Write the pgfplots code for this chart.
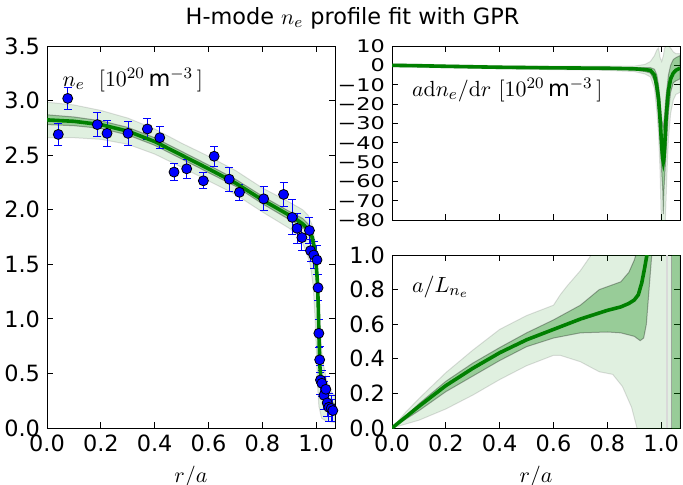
\documentclass[border=0pt]{standalone}
\usepackage{pgfplots}
\pgfplotsset{compat=1.18}
\usepackage{graphicx}
\usepackage[no-math]{fontspec}
\setmainfont{DejaVu Sans}
\definecolor{mplgreen}{RGB}{0,128,0}
\newcommand{\fs}{\fontsize{11.2}{13.5}\selectfont}
\newcommand{\sq}[1]{\scalebox{1}[0.78]{#1}}
\pgfplotsset{
  every axis/.append style={scale only axis, width=144pt, anchor=south west,
    xmin=0, xmax=1.07,
    tick label style={font=\fs}, label style={font=\fs},
    /pgf/number format/assume math mode=true,
    major tick length=3pt, tick style={black, line width=0.5pt},
    axis line style={line width=0.5pt},
    xtick={0,0.2,0.4,0.6,0.8,1.0}},
  lightband/.style={fill=mplgreen, fill opacity=0.12, draw=black, draw opacity=0.12, line width=0.5pt},
  darkband/.style={fill=mplgreen, fill opacity=0.32, draw=black, draw opacity=0.3, line width=0.5pt},
  fitline/.style={mplgreen, line width=1.8pt, no marks},
}
\pgfplotstableread{
r n e
0.042 2.69 0.10
0.077 3.02 0.10
0.187 2.78 0.11
0.223 2.70 0.12
0.301 2.70 0.11
0.373 2.74 0.10
0.419 2.66 0.10
0.472 2.345 0.08
0.519 2.375 0.085
0.581 2.265 0.075
0.621 2.49 0.09
0.677 2.28 0.11
0.715 2.16 0.075
0.805 2.10 0.11
0.879 2.14 0.11
0.911 1.93 0.16
0.929 1.83 0.14
0.947 1.745 0.12
0.975 1.81 0.12
0.979 1.625 0.10
0.991 1.585 0.12
1.003 1.54 0.13
1.007 1.285 0.12
1.010 0.868 0.13
1.013 0.625 0.12
1.016 0.44 0.13
1.021 0.41 0.12
1.029 0.30 0.13
1.036 0.355 0.12
1.041 0.23 0.12
1.047 0.19 0.13
1.056 0.18 0.12
1.062 0.16 0.10
}\nedata
\begin{document}
\begin{tikzpicture}[x=1pt,y=1pt]
\useasboundingbox (-23.5,-28) rectangle (318,214);
% ---------------- left panel ----------------
\begin{axis}[at={(0,0)}, height=191pt, ymin=0, ymax=3.5,
  ytick={0,0.5,1,1.5,2,2.5,3,3.5},
  yticklabels={0.0,0.5,1.0,1.5,2.0,2.5,3.0,3.5},
  xticklabels={0.0,0.2,0.4,0.6,0.8,1.0},
  xlabel={$r/a$}]
\addplot[lightband] coordinates {(0,2.985) (0.1,2.96) (0.2,2.91) (0.3,2.84) (0.4,2.74) (0.5,2.61) (0.6,2.49) (0.7,2.36) (0.8,2.20) (0.9,2.07) (0.95,2.00) (0.97,1.95) (0.985,1.86) (0.995,1.72) (1.004,1.5) (1.011,1.2) (1.016,0.9) (1.021,0.7) (1.027,0.58) (1.037,0.46) (1.047,0.38) (1.06,0.32) (1.07,0.30)
 (1.07,0.05) (1.04,0.06) (1.02,0.09) (1.01,0.2) (1.005,0.4) (1.001,0.7) (0.996,1.0) (0.989,1.3) (0.978,1.5) (0.963,1.62) (0.95,1.69) (0.93,1.77) (0.9,1.83) (0.8,1.98) (0.7,2.14) (0.6,2.265) (0.5,2.39) (0.4,2.51) (0.3,2.60) (0.2,2.645) (0.1,2.66) (0,2.66)} -- cycle;
\addplot[darkband] coordinates {(0,2.87) (0.1,2.85) (0.2,2.815) (0.3,2.755) (0.4,2.66) (0.5,2.535) (0.6,2.41) (0.7,2.28) (0.8,2.125) (0.9,1.985) (0.95,1.92) (0.97,1.87) (0.985,1.79) (0.995,1.67) (1.001,1.5) (1.006,1.3) (1.011,0.9) (1.015,0.6) (1.02,0.48) (1.03,0.34) (1.045,0.26) (1.07,0.22)
 (1.07,0.12) (1.04,0.18) (1.025,0.3) (1.016,0.4) (1.012,0.5) (1.008,0.8) (1.004,1.2) (0.999,1.4) (0.993,1.58) (0.985,1.70) (0.97,1.78) (0.95,1.84) (0.9,1.91) (0.8,2.055) (0.7,2.215) (0.6,2.34) (0.5,2.465) (0.4,2.59) (0.3,2.685) (0.2,2.745) (0.1,2.77) (0,2.78)} -- cycle;
\addplot[blue, only marks, mark=*, mark size=2.5pt,
  mark options={fill=blue, draw=black, line width=0.4pt},
  error bars/.cd, y dir=both, y explicit,
  error bar style={blue, line width=0.5pt},
  error mark options={rotate=90, blue, mark size=2pt, line width=0.5pt}]
  table[x=r, y=n, y error=e] {\nedata};
\addplot[fitline] coordinates {(0,2.823) (0.1,2.81) (0.2,2.78) (0.3,2.72) (0.4,2.625) (0.5,2.50) (0.6,2.375) (0.7,2.245) (0.8,2.09) (0.85,2.02) (0.9,1.95) (0.93,1.905) (0.95,1.87) (0.97,1.82) (0.985,1.75) (0.995,1.63) (1.0,1.5) (1.005,1.33) (1.008,1.1) (1.01,0.87) (1.014,0.56) (1.018,0.45) (1.022,0.38) (1.03,0.29) (1.035,0.257) (1.045,0.21) (1.055,0.19) (1.07,0.17)};
\node[anchor=west, font=\fs] at (rel axis cs:0.03,0.911) {$n_e\ \ [10^{20}\,$m$^{-3}\,]$};
\end{axis}
% ---------------- right top panel ----------------
\begin{axis}[at={(172.5pt,104pt)}, height=87pt, ymin=-80, ymax=10,
  ytick={-80,-70,-60,-50,-40,-30,-20,-10,0,10},
  yticklabels={\sq{−80},\sq{−70},\sq{−60},\sq{−50},\sq{−40},\sq{−30},\sq{−20},\sq{−10},\sq{0},\sq{10}},
  xticklabels={}]
\addplot[lightband] coordinates {(0,0.8) (0.2,0.3) (0.4,-0.2) (0.6,-0.4) (0.8,-0.4) (0.9,-0.4) (0.94,0.5) (0.96,2) (0.975,5) (0.984,8) (0.99,9) (0.996,4) (1.002,2) (1.008,5) (1.013,9) (1.018,10) (1.027,10) (1.035,9) (1.045,7) (1.055,6) (1.07,6)
 (1.07,-14) (1.055,-15) (1.045,-18) (1.035,-25) (1.027,-38) (1.023,-50) (1.018,-70) (1.013,-90) (1.002,-90) (0.996,-55) (0.99,-35) (0.984,-24) (0.975,-12) (0.96,-6) (0.94,-4.5) (0.9,-3.2) (0.8,-2.6) (0.6,-2.2) (0.4,-1.8) (0.2,-1.3) (0,-0.8)} -- cycle;
\addplot[darkband] coordinates {(0,0.3) (0.2,-0.2) (0.4,-0.7) (0.6,-1.0) (0.8,-1.1) (0.9,-1.2) (0.94,-1.2) (0.96,-1.2) (0.975,-2) (0.984,-5) (0.99,-10) (0.996,-18) (1.002,-28) (1.008,-32) (1.013,-25) (1.018,-16) (1.023,-10) (1.027,-5) (1.035,0) (1.045,3) (1.055,4) (1.07,5)
 (1.07,-7) (1.055,-8) (1.045,-9) (1.035,-14) (1.027,-24) (1.018,-45) (1.013,-58) (1.010,-65) (1.008,-77) (1.006,-65) (1.002,-55) (0.996,-40) (0.99,-25) (0.984,-17) (0.975,-8) (0.96,-4) (0.94,-3.2) (0.9,-2.4) (0.8,-1.9) (0.6,-1.6) (0.4,-1.3) (0.2,-0.8) (0,-0.3)} -- cycle;
\addplot[fitline] coordinates {(0,0) (0.1,-0.2) (0.2,-0.5) (0.4,-1.0) (0.6,-1.3) (0.8,-1.5) (0.9,-1.8) (0.94,-2.2) (0.96,-2.6) (0.975,-5) (0.984,-11) (0.99,-17) (0.996,-28) (1.002,-42) (1.006,-48.5) (1.008,-50) (1.010,-48.5) (1.013,-42) (1.018,-28) (1.023,-19) (1.027,-13) (1.035,-7) (1.045,-4) (1.055,-2.5) (1.07,-1.5)};
\node[anchor=west, font=\fs] at (rel axis cs:0.045,0.747) {$a\mathrm{d}n_e/\mathrm{d}r\ [10^{20}\,$m$^{-3}\,]$};
\end{axis}
% ---------------- right bottom panel ----------------
\begin{axis}[at={(172.5pt,0pt)}, height=86.5pt, ymin=0, ymax=1,
  ytick={0,0.2,0.4,0.6,0.8,1.0},
  yticklabels={0.0,0.2,0.4,0.6,0.8,1.0},
  xticklabels={0.0,0.2,0.4,0.6,0.8,1.0},
  xlabel={$r/a$}]
\addplot[lightband] coordinates {(0,0) (0.05,0.09) (0.1,0.17) (0.2,0.32) (0.3,0.45) (0.4,0.57) (0.5,0.65) (0.55,0.68) (0.6,0.71) (0.625,0.77) (0.65,0.82) (0.7,0.91) (0.74,1.0) (0.76,1.2) (1.07,1.2)
 (1.07,-0.2) (0.915,-0.2) (0.91,0.0) (0.89,0.12) (0.856,0.24) (0.82,0.31) (0.77,0.325) (0.70,0.383) (0.625,0.42) (0.6,0.42) (0.5,0.36) (0.4,0.28) (0.3,0.19) (0.2,0.11) (0.1,0.045) (0,0)} -- cycle;
\addplot[darkband] coordinates {(0,0) (0.1,0.14) (0.2,0.27) (0.3,0.375) (0.4,0.465) (0.5,0.55) (0.6,0.625) (0.7,0.71) (0.77,0.80) (0.85,0.845) (0.88,0.90) (0.90,0.97) (0.91,1.02) (0.92,1.2)
 (0.97,1.2) (0.965,1.0) (0.955,0.8) (0.945,0.6) (0.935,0.52) (0.922,0.505) (0.9,0.53) (0.85,0.55) (0.8,0.555) (0.7,0.55) (0.6,0.52) (0.5,0.47) (0.4,0.39) (0.3,0.30) (0.2,0.21) (0.1,0.10) (0,0)} -- cycle;
\addplot[darkband] coordinates {(1.04,-0.2) (1.04,1.2) (1.07,1.2) (1.07,-0.2)} -- cycle;
\addplot[black!15, line width=1pt] coordinates {(1.02,0) (1.02,1)};
\addplot[fitline] coordinates {(0,0) (0.1,0.125) (0.2,0.245) (0.3,0.345) (0.4,0.435) (0.5,0.51) (0.6,0.57) (0.7,0.63) (0.8,0.68) (0.85,0.70) (0.88,0.72) (0.9,0.74) (0.915,0.77) (0.928,0.84) (0.938,0.92) (0.947,1.0) (0.952,1.1)};
\node[anchor=west, font=\fs] at (rel axis cs:0.045,0.815) {$a/L_{n_e}$};
\end{axis}
\node[font=\fs] at (152.75,205) {H-mode $n_e$ profile fit with GPR};
\end{tikzpicture}
\end{document}
